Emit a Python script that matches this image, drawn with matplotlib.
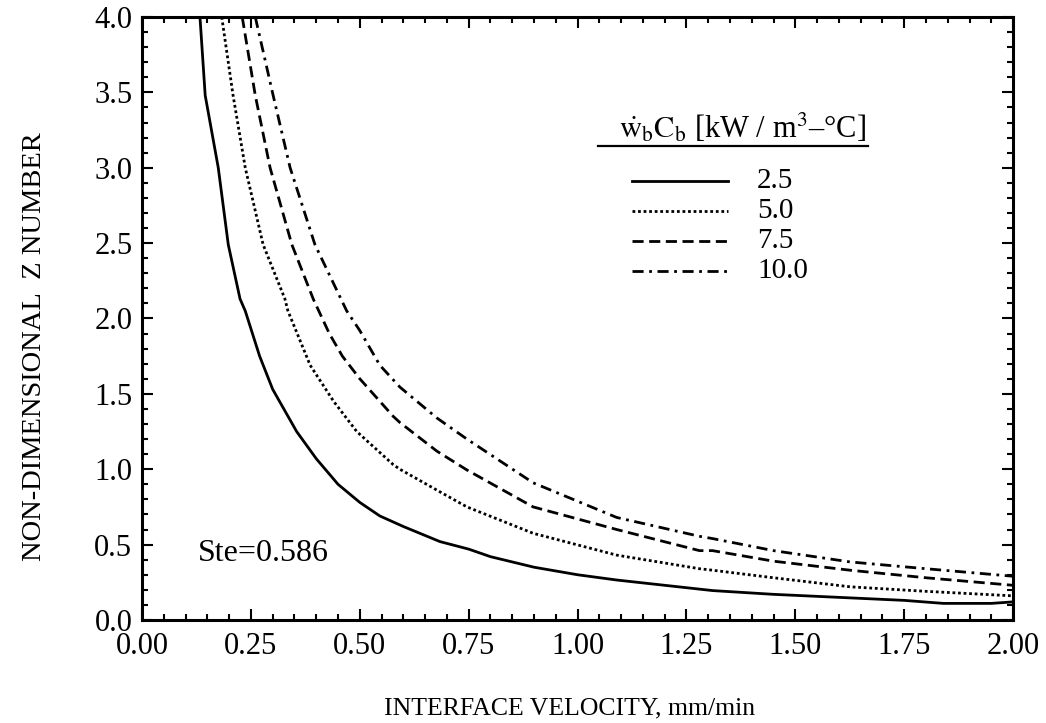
import matplotlib
matplotlib.use("Agg")
import matplotlib.pyplot as plt
from matplotlib.ticker import MultipleLocator

plt.rcParams["font.family"] = ["Liberation Serif", "DejaVu Serif"]
plt.rcParams["mathtext.fontset"] = "stix"

# interface velocity (mm/min) vs non-dimensional Z number, one curve per w_b*C_b
v_25 = [0.133, 0.145, 0.175, 0.198, 0.225, 0.237, 0.27, 0.30, 0.355, 0.40, 0.45,
        0.50, 0.546, 0.60, 0.684, 0.75, 0.80, 0.90, 1.00, 1.09, 1.20, 1.31, 1.45,
        1.60, 1.75, 1.84, 1.95, 2.00]
z_25 = [4.0, 3.48, 3.0, 2.49, 2.13, 2.05, 1.75, 1.53, 1.25, 1.07, 0.90,
        0.78, 0.69, 0.62, 0.52, 0.47, 0.42, 0.35, 0.30, 0.265, 0.23, 0.195, 0.17,
        0.15, 0.13, 0.11, 0.11, 0.12]

v_50 = [0.183, 0.209, 0.237, 0.278, 0.328, 0.335, 0.386, 0.44, 0.493, 0.577,
        0.592, 0.684, 0.746, 0.898, 1.09, 1.28, 1.31, 1.45, 1.626, 1.80, 2.00]
z_50 = [4.0, 3.48, 3.0, 2.49, 2.13, 2.05, 1.69, 1.45, 1.25, 1.03,
        1.0, 0.85, 0.75, 0.575, 0.43, 0.34, 0.33, 0.28, 0.22, 0.19, 0.16]

v_75 = [0.23, 0.26, 0.294, 0.344, 0.393, 0.43, 0.46, 0.50, 0.577, 0.592,
        0.677, 0.746, 0.898, 1.09, 1.28, 1.31, 1.45, 1.626, 1.80, 2.00]
z_75 = [4.0, 3.48, 3.0, 2.49, 2.13, 1.90, 1.75, 1.60, 1.35, 1.31,
        1.12, 0.995, 0.75, 0.60, 0.46, 0.46, 0.39, 0.33, 0.28, 0.23]

v_100 = [0.26, 0.301, 0.34, 0.397, 0.46, 0.47, 0.50, 0.546, 0.592, 0.677,
         0.746, 0.898, 1.09, 1.28, 1.31, 1.45, 1.626, 1.80, 2.00]
z_100 = [4.0, 3.48, 3.0, 2.49, 2.11, 2.05, 1.92, 1.69, 1.545, 1.34,
         1.20, 0.91, 0.68, 0.555, 0.54, 0.46, 0.385, 0.34, 0.29]

labels = ["2.5", "5.0", "7.5", "10.0"]
styles = ["-", (0, (1, 1)), (0, (4, 2)), (0, (4, 2, 1, 2))]

fig = plt.figure(figsize=(10.46, 7.23), dpi=100)
ax = fig.add_axes([0.1358, 0.1425, 0.8327, 0.834])

curves = [(v_25, z_25), (v_50, z_50), (v_75, z_75), (v_100, z_100)]
for (v, z), ls in zip(curves, styles):
    ax.plot(v, z, color="black", linestyle=ls, linewidth=2.0)

ax.set_xlim(0, 2)
ax.set_ylim(0, 4)
ax.xaxis.set_major_locator(MultipleLocator(0.25))
ax.xaxis.set_minor_locator(MultipleLocator(0.05))
ax.yaxis.set_major_locator(MultipleLocator(0.5))
ax.yaxis.set_minor_locator(MultipleLocator(0.1))
ax.xaxis.set_major_formatter(plt.FormatStrFormatter("%.2f"))
ax.yaxis.set_major_formatter(plt.FormatStrFormatter("%.1f"))

ax.tick_params(which="both", direction="in", top=True, right=True,
               width=1.5, labelsize=22)
ax.tick_params(which="major", length=8)
ax.tick_params(which="minor", length=4)
ax.tick_params(axis="x", pad=9)
ax.tick_params(axis="y", pad=7)
for sp in ax.spines.values():
    sp.set_linewidth(2.2)

ax.set_xlabel("INTERFACE VELOCITY, mm/min", fontsize=18.5, va="center")
ax.xaxis.set_label_coords(0.491, -0.146)
ax.set_ylabel("NON-DIMENSIONAL  Z NUMBER", fontsize=20.5, va="center")
ax.yaxis.set_label_coords(-0.123, 0.454)

# hand-built legend with underlined heading
ax.text(0.689, 0.816, r"$\mathrm{\dot{w}_b C_b}$ [kW / m$^3$–°C]",
        transform=ax.transAxes, ha="center", va="center", fontsize=22)
ax.plot([0.5235, 0.8335], [0.786, 0.786], transform=ax.transAxes,
        color="black", linewidth=1.6, clip_on=False)
rows = [0.728, 0.678, 0.6285, 0.579]
for y, ls, lab in zip(rows, styles, labels):
    ax.plot([0.5626, 0.6728], [y, y], transform=ax.transAxes,
            color="black", linestyle=ls, linewidth=2.0)
    ax.text(0.706, y, lab, transform=ax.transAxes, ha="left", va="center",
            fontsize=21)

ax.text(0.064, 0.111, "Ste=0.586", transform=ax.transAxes, ha="left",
        va="center", fontsize=23)

fig.savefig("out.png", dpi=100)
